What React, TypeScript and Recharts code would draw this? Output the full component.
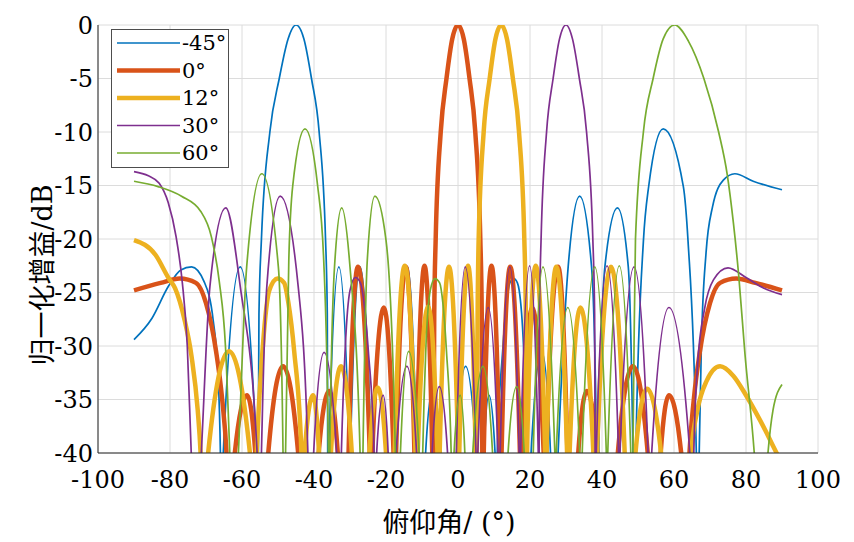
import React from 'react';
import { LineChart, Line, XAxis, YAxis, CartesianGrid } from 'recharts';

// beam patterns: [angle in degrees, normalised gain in dB]
// values below -40 are nulls and get clipped by the axis
const beamM45: [number, number][] = [
  [-90, -29.4], [-85, -27.4], [-80.4, -24.4], [-77, -22.9], [-74, -22.6], [-70.5, -24], [-68, -27.6], [-66.6, -33], [-66, -40], [-65.6, -50],
  [-65.2, -40], [-60.5, -22.6], [-56, -40], [-55.7, -50],
  [-55.46, -40], [-55.29, -27], [-54.6, -20], [-52.26, -10], [-49.65, -5], [-47.2, -1.3], [-45, 0], [-42.8, -1.3], [-40.7, -5], [-38.57, -10], [-36.8, -20], [-36.31, -27], [-36.19, -40], [-36.05, -50],
  [-35.9, -40], [-33.1, -22.6], [-30.2, -40], [-30.05, -50], [-29.9, -40], [-27.2, -22.6], [-24.1, -40], [-23.9, -50],
  [-23.6, -40], [-20.8, -26.4], [-17.7, -40], [-17.5, -50], [-17.2, -40], [-14, -22.6], [-11.5, -40], [-11.2, -50], [-9.5, -50],
  [-9, -40], [-7, -34], [-4.7, -40], [-4.3, -50], [-0.8, -50], [-0.4, -40], [2.1, -31.9], [5, -40], [5.5, -50], [6.6, -50],
  [7.2, -40], [8.6, -34.6], [10.3, -40], [10.6, -50], [10.9, -40], [12.4, -30.5], [13.5, -26], [14.4, -24.1], [15.5, -23.7], [16.5, -24.1], [17, -24.8], [18.2, -30], [19.2, -40], [19.7, -50],
  [20.3, -40], [23.3, -30.5], [25.7, -40], [26.6, -50], [27.8, -40], [30.6, -22.6], [33.8, -16], [37.1, -22.6], [38.5, -40], [38.8, -50],
  [39.1, -40], [40.8, -22.6], [44.3, -17.1], [47.3, -22.6], [48.6, -40], [49, -50],
  [49.4, -40], [51.5, -20.2], [53, -15], [57, -9.7], [62.6, -15.1], [63.9, -20.2], [66.2, -40], [66.6, -50],
  [67, -40], [67.6, -30], [68.9, -21.3], [70.7, -17], [73.7, -14.5], [76.9, -13.9], [82, -14.6], [90, -15.4],
];

const beam0: [number, number][] = [
  [-90, -24.8], [-82.6, -24.1], [-77.3, -23.7], [-72.8, -24.1], [-70, -26], [-67.2, -30.5], [-65.5, -35], [-64.3, -40], [-63.2, -50],
  [-62, -40], [-58.6, -34.6], [-56.3, -40], [-55.7, -50], [-53.4, -50], [-52.7, -40], [-48.6, -31.9], [-44.4, -40], [-43.8, -50], [-39.2, -50],
  [-38.7, -40], [-35.8, -34.2], [-33.4, -40], [-32.9, -50], [-30.8, -50], [-30.4, -40], [-27.8, -22.6], [-24.5, -40], [-24.2, -50],
  [-23.8, -40], [-20.6, -26.4], [-17.9, -40], [-17.5, -50], [-17.2, -40], [-14.5, -22.6], [-12.1, -40], [-11.8, -50],
  [-11.5, -40], [-9.3, -22.5], [-7.15, -40], [-6.95, -50],
  [-6.75, -40], [-6.6, -27], [-6.2, -20], [-4.8, -10], [-3.2, -5], [-1.6, -1.3], [0, 0], [1.6, -1.3], [3.2, -5], [4.8, -10], [6.2, -20], [6.6, -27], [6.75, -40],
  [6.95, -50], [7.15, -40], [9.3, -22.5], [11.5, -40], [11.8, -50], [12.1, -40], [14.5, -22.6], [17.2, -40], [17.5, -50],
  [17.9, -40], [20.6, -26.4], [23.8, -40], [24.2, -50], [24.5, -40], [27.8, -22.6], [30.4, -40], [30.8, -50], [32.9, -50],
  [33.4, -40], [35.8, -34.2], [38.7, -40], [39.2, -50], [43.8, -50], [44.4, -40], [48.6, -31.9], [52.7, -40], [53.4, -50], [55.7, -50],
  [56.3, -40], [58.6, -34.6], [62, -40], [63.2, -50], [64.3, -40], [65.5, -35], [67.2, -30.5], [70, -26], [72.8, -24.1], [77.3, -23.7], [82.6, -24.1], [90, -24.8],
];

const beam12: [number, number][] = [
  [-90, -20.1], [-84, -21.5], [-80.5, -23.6], [-78.6, -24.6], [-76, -27.5], [-74, -31], [-72.3, -36], [-71.5, -40], [-70.5, -50],
  [-69.4, -40], [-63.6, -30.5], [-57.8, -40], [-56.8, -50],
  [-55.9, -40], [-54.2, -30], [-52.4, -24.8], [-50.1, -23.7], [-48.3, -24.1], [-47.1, -26], [-45.5, -30.5], [-43.5, -40], [-43.05, -50],
  [-42.6, -40], [-40.3, -34.6], [-38.6, -40], [-38.2, -50], [-35.8, -50], [-35.3, -40], [-32.5, -31.9], [-29.5, -40], [-29.1, -50], [-25, -50],
  [-24.6, -40], [-22.3, -33.9], [-20, -40], [-19.6, -50], [-17.9, -50], [-17.6, -40], [-14.8, -22.5], [-11.8, -40], [-11.5, -50],
  [-11.2, -40], [-8.3, -26.3], [-5.7, -40], [-5.4, -50], [-5.1, -40], [-2.5, -22.6], [0.05, -40], [0.2, -50], [0.35, -40], [2.8, -22.5], [4.9, -40], [5.05, -50],
  [5.23, -40], [5.45, -27], [5.74, -20], [7.13, -10], [8.8, -5], [10.4, -1.3], [12, 0], [13.6, -1.3], [15.24, -5], [16.95, -10], [18.42, -20], [18.84, -27], [18.94, -40], [19.05, -50],
  [19.15, -40], [21.6, -22.5], [24.2, -40], [24.4, -50], [24.6, -40], [27.3, -22.6], [30.3, -40], [30.6, -50],
  [31, -40], [34, -26.4], [37.6, -40], [38, -50], [38.6, -40], [42.5, -22.6], [46.3, -40], [46.8, -50], [48.7, -50],
  [49.3, -40], [52.5, -34], [56.4, -40], [57, -50], [64.2, -50],
  [64.8, -40], [66.5, -36], [69, -33.3], [72.8, -31.9], [76.5, -32.8], [80, -34.6], [84, -37], [88.5, -40], [90, -41],
];

const beam30: [number, number][] = [
  [-90, -13.7], [-86, -14.1], [-83, -14.8], [-80.5, -16.6], [-78.3, -19.8], [-76.6, -24], [-75.2, -30], [-74.1, -40], [-72.8, -50],
  [-71.3, -40], [-68.9, -24.4], [-64.5, -17.1], [-60.5, -24.4], [-55.8, -40], [-55.2, -50],
  [-54.6, -40], [-53.1, -24.4], [-49.4, -16], [-44.4, -24.4], [-41.7, -40], [-41, -50],
  [-40.1, -40], [-37.2, -30.6], [-33.7, -40], [-33.1, -50],
  [-32.4, -40], [-31.3, -30], [-30, -24.8], [-28.5, -23.6], [-27.1, -24.1], [-26.1, -26], [-24.9, -30.5], [-23.3, -40], [-23, -50],
  [-22.6, -40], [-20.8, -34.6], [-19.4, -40], [-19, -50], [-17.6, -50], [-17.2, -40], [-14.2, -31.9], [-11.5, -40], [-11, -50], [-7.7, -50],
  [-7.2, -40], [-5.2, -33.8], [-2.9, -40], [-2.5, -50], [-0.9, -50], [-0.45, -40], [2, -22.6], [5, -40], [5.2, -50],
  [5.5, -40], [8.4, -26.4], [11.1, -40], [11.4, -50], [11.7, -40], [14.4, -22.6], [17, -40], [17.2, -50], [17.4, -40], [19.9, -22.5], [22.3, -40], [22.42, -50],
  [22.54, -40], [22.64, -27], [23.08, -20], [24.6, -10], [26.42, -5], [28.2, -1.3], [30, 0], [31.8, -1.3], [33.71, -5], [35.71, -10], [37.45, -20], [37.95, -27], [38.08, -40], [38.2, -50],
  [38.4, -40], [41.4, -22.5], [44.6, -40], [44.8, -50], [45, -40], [48.9, -22.6], [52.8, -40], [53.2, -50],
  [53.8, -40], [58.6, -26.4], [64.4, -40], [65, -50],
  [65.5, -40], [66.5, -32], [68.5, -26.5], [71, -23.8], [75, -22.7], [80, -23.6], [85, -24.6], [90, -25.2],
];

const beam60: [number, number][] = [
  [-90, -14.6], [-83.3, -15.1], [-76.8, -16], [-71.5, -17.4], [-68.5, -19.8], [-66.3, -24], [-64.6, -30], [-63.4, -40], [-62.4, -50],
  [-61, -40], [-58.7, -22.6], [-54.5, -13.9], [-49.9, -22.6], [-48.6, -40], [-48.25, -50],
  [-47.9, -40], [-47, -22], [-45.9, -15], [-42.5, -9.7], [-39, -15], [-37.3, -22], [-36, -40], [-35.8, -50],
  [-35.6, -40], [-34.3, -22.6], [-32.3, -17.1], [-30, -22.6], [-27.2, -40], [-26.8, -50],
  [-26.4, -40], [-25.2, -22], [-23.1, -16], [-20, -20.1], [-17.4, -40], [-17, -50], [-16.4, -50],
  [-16, -40], [-13.7, -30.5], [-10.8, -40], [-10.3, -50],
  [-9.8, -40], [-8.9, -30], [-7.7, -24.8], [-6.4, -23.7], [-5.1, -24.1], [-4.2, -26], [-3.2, -30.5], [-1.9, -40], [-1.5, -50],
  [-1.1, -40], [0.6, -34.6], [1.9, -40], [2.5, -50], [3.5, -50], [4.1, -40], [6.9, -31.9], [9.6, -40], [10.2, -50], [13.3, -50],
  [13.9, -40], [16.3, -33.8], [18.4, -40], [18.9, -50], [20.6, -50], [20.9, -40], [23.6, -22.6], [26.9, -40], [27.1, -50],
  [27.3, -40], [30.5, -26.4], [33.8, -40], [34.2, -50], [34.5, -40], [38, -22.6], [41.2, -40], [41.4, -50],
  [41.6, -40], [44.8, -22.5], [48, -40], [48.3, -50],
  [48.6, -40], [48.9, -30], [49.3, -20], [51.5, -10], [54.2, -5], [57, -1.3], [60.2, 0], [64, -1.5], [68.3, -5], [72.4, -10], [74.8, -14], [76.5, -18.5], [78, -23.5], [79.7, -30.7], [82.3, -40], [84.2, -50],
  [86.1, -40], [87.5, -36], [90, -33.6],
];

const xTicks = [-100, -80, -60, -40, -20, 0, 20, 40, 60, 80, 100];
const yTicks = [-40, -35, -30, -25, -20, -15, -10, -5, 0];

const series = [
  { name: '-45°', data: beamM45, color: '#0072BD', width: 1.7 },
  { name: '0°', data: beam0, color: '#D95319', width: 4.5 },
  { name: '12°', data: beam12, color: '#EDB120', width: 4.5 },
  { name: '30°', data: beam30, color: '#7E2F8E', width: 1.7 },
  { name: '60°', data: beam60, color: '#77AC30', width: 1.7 },
];

const serif = "'DejaVu Serif', serif";
const labelFont = "'DejaVu Serif', 'Noto Sans CJK SC', serif";
const tickStyle = { fontFamily: serif, fontSize: 24, fill: '#000' };

function Legend() {
  return (
    <svg width={119} height={140} style={{ position: 'absolute', left: 103, top: 21 }}>
      <rect x={0.5} y={0.5} width={117} height={138} fill="#fff" stroke="#4d4d4d" strokeWidth={1} />
      {series.map((s, i) => {
        const y = 14 + i * 27.5;
        return (
          <g key={s.name}>
            <line x1={6} x2={69} y1={y} y2={y} stroke={s.color} strokeWidth={s.width} />
            <text x={71} y={y + 7} fontFamily={serif} fontSize={21} fill="#000">{s.name}</text>
          </g>
        );
      })}
    </svg>
  );
}

export default function App() {
  return (
    <div style={{ position: 'relative', width: 846, height: 534, background: '#fff' }}>
      <LineChart width={846} height={534} margin={{ top: 17, right: 36, bottom: 49, left: 30 }}>
        <CartesianGrid stroke="#dcdcdc" strokeWidth={1} horizontalValues={yTicks} verticalValues={xTicks} />
        <XAxis
          type="number"
          dataKey="x"
          domain={[-100, 100]}
          ticks={xTicks}
          allowDataOverflow
          height={40}
          tickLine={false}
          tickSize={5}
          tickMargin={13}
          tick={tickStyle}
          axisLine={{ stroke: '#262626' }}
        />
        <YAxis
          type="number"
          dataKey="y"
          domain={[-40, 0]}
          ticks={yTicks}
          allowDataOverflow
          width={60}
          tickLine={false}
          tickSize={5}
          tickMargin={0}
          tick={tickStyle}
          axisLine={{ stroke: '#262626' }}
        />
        {series.map((s) => (
          <Line
            key={s.name}
            data={s.data.map(([x, y]) => ({ x, y }))}
            dataKey="y"
            type="monotone"
            stroke={s.color}
            strokeWidth={s.width}
            dot={false}
            activeDot={false}
            isAnimationActive={false}
          />
        ))}
      </LineChart>
      <Legend />
      <div
        style={{
          position: 'absolute', left: 32, top: 267, transform: 'translate(-50%, -50%) rotate(-90deg)',
          fontFamily: labelFont, fontSize: 27, whiteSpace: 'nowrap', color: '#000',
        }}
      >
        归一化增益/dB
      </div>
      <div
        style={{
          position: 'absolute', left: 441, top: 512, transform: 'translate(-50%, -50%)',
          fontFamily: labelFont, fontSize: 27, whiteSpace: 'nowrap', color: '#000',
        }}
      >
        俯仰角/ (°)
      </div>
    </div>
  );
}
